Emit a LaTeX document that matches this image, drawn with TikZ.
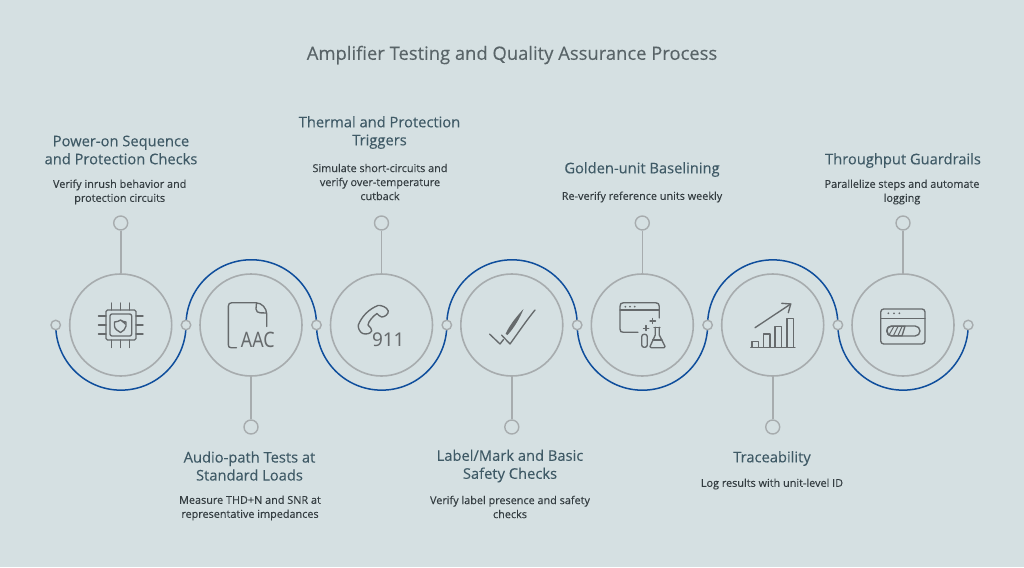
\documentclass[tikz,border=0pt]{standalone}
\usepackage{fontspec}
\setmainfont{Open Sans}[FakeBold=0.22]
\newfontfamily\iconfont{Noto Sans}
\pgfdeclarelayer{bg}
\pgfsetlayers{bg,main}
\definecolor{bgc}{HTML}{D5E0E2}
\definecolor{ringc}{HTML}{A7ACAE}
\definecolor{bluec}{HTML}{0F4E9C}
\definecolor{headc}{HTML}{3F5A66}
\definecolor{descc}{HTML}{343D41}
\definecolor{titlec}{HTML}{596468}
\definecolor{iconc}{HTML}{666A6C}
\tikzset{
  x=1pt,y=1pt,
  ring/.style={circle,draw=ringc,line width=1.6pt,fill=bgc,minimum size=102pt,inner sep=0pt},
  joint/.style={circle,draw=ringc,line width=1.4pt,fill=bgc,minimum size=9.5pt,inner sep=0pt},
  pin/.style={circle,draw=ringc,line width=1.4pt,fill=bgc,minimum size=14pt,inner sep=0pt},
  stem/.style={draw=ringc,line width=1.6pt},
  wave/.style={draw=bluec,line width=1.5pt},
  titletext/.style={font=\fontsize{18.4}{22}\selectfont,text=titlec,inner sep=0pt},
  headtext/.style={font=\fontsize{14.7}{18}\selectfont,text=headc,align=center,inner sep=0pt},
  desctext/.style={font=\fontsize{10.85}{14}\selectfont,text=descc,align=center,inner sep=0pt},
  icon/.style={draw=iconc,line width=1.35pt,line cap=round,line join=round},
  iconfill/.style={fill=iconc,draw=none},
  icontext/.style={text=iconc,inner sep=0pt},
}
\begin{document}
\begin{tikzpicture}
\begin{pgfonlayer}{bg}
\path[fill=bgc] (0,0) rectangle (1024,-567);
\end{pgfonlayer}
\useasboundingbox (0,0) rectangle (1024,-567);

\node[titletext] (title) at (512,-55) {Amplifier Testing and Quality Assurance Process};

% rings
\node[ring] (c1) at (120.7,-325) {};
\node[ring] (c2) at (251,-325) {};
\node[ring] (c3) at (381.5,-325) {};
\node[ring] (c4) at (511.8,-325) {};
\node[ring] (c5) at (642.3,-325) {};
\node[ring] (c6) at (772.7,-325) {};
\node[ring] (c7) at (903,-325) {};
% joints
\node[joint] (j0) at (55.7,-325) {};
\node[joint] (j1) at (186,-325) {};
\node[joint] (j2) at (316.5,-325) {};
\node[joint] (j3) at (446.8,-325) {};
\node[joint] (j4) at (577.2,-325) {};
\node[joint] (j5) at (707.6,-325) {};
\node[joint] (j6) at (837.9,-325) {};
\node[joint] (j7) at (968.2,-325) {};
% pins
\node[pin] (p1) at (120.7,-223) {};
\node[pin] (p2) at (251,-427) {};
\node[pin] (p3) at (381.5,-223) {};
\node[pin] (p4) at (511.8,-427) {};
\node[pin] (p5) at (642.3,-223) {};
\node[pin] (p6) at (772.7,-427) {};
\node[pin] (p7) at (903,-223) {};

\begin{pgfonlayer}{bg}
\draw[stem] (p1) -- (c1);
\draw[stem] (p2) -- (c2);
\draw[stem] (p3) -- (c3);
\draw[stem] (p4) -- (c4);
\draw[stem] (p5) -- (c5);
\draw[stem] (p6) -- (c6);
\draw[stem] (p7) -- (c7);
% blue waves: half circles from joint to joint
\draw[wave] (j0.center) arc[start angle=180,end angle=360,radius=65.15];
\draw[wave] (j1.center) arc[start angle=180,end angle=0,radius=65.25];
\draw[wave] (j2.center) arc[start angle=180,end angle=360,radius=65.15];
\draw[wave] (j3.center) arc[start angle=180,end angle=0,radius=65.2];
\draw[wave] (j4.center) arc[start angle=180,end angle=360,radius=65.2];
\draw[wave] (j5.center) arc[start angle=180,end angle=0,radius=65.15];
\draw[wave] (j6.center) arc[start angle=180,end angle=360,radius=65.15];
\end{pgfonlayer}

% text
\node[headtext] (h1) at (121,-150) {Power-on Sequence\\and Protection Checks};
\node[desctext] (d1) at (119.7,-192) {Verify inrush behavior and\\protection circuits};
\node[headtext] (h2) at (249.5,-466) {Audio-path Tests at\\Standard Loads};
\node[desctext] (d2) at (250,-508) {Measure THD+N and SNR at\\representative impedances};
\node[headtext] (h3) at (379.5,-132.5) {Thermal and Protection\\Triggers};
\node[desctext] (d3) at (380,-182) {Simulate short-circuits and\\verify over-temperature\\cutback};
\node[headtext] (h4) at (510,-466) {Label/Mark and Basic\\Safety Checks};
\node[desctext] (d4) at (510,-507) {Verify label presence and safety\\checks};
\node[headtext] (h5) at (642,-169.5) {Golden-unit Baselining};
\node[desctext] (d5) at (642,-197) {Re-verify reference units weekly};
\node[headtext] (h6) at (772,-458.5) {Traceability};
\node[desctext] (d6) at (772,-484) {Log results with unit-level ID};
\node[headtext] (h7) at (903,-160.5) {Throughput Guardrails};
\node[desctext] (d7) at (902,-192) {Parallelize steps and automate\\logging};

% icon 1: chip with shield
\draw[icon,rounded corners=1.5pt] (106,-310) rectangle (136,-340);
\draw[icon,rounded corners=2pt] (110,-314) rectangle (131.7,-336);
\foreach \k in {111.7,120.7,129.3}{
  \draw[icon] (\k,-303) -- (\k,-310);
  \draw[icon] (\k,-340) -- (\k,-347.5);
}
\foreach \k in {-316,-325,-334}{
  \draw[icon] (98.5,\k) -- (106,\k);
  \draw[icon] (136,\k) -- (143,\k);
}
\draw[icon] (114.5,-322) .. controls (117,-322) and (119,-321) .. (120.5,-320) .. controls (122,-321) and (124,-322) .. (126,-322) -- (126,-326) .. controls (126,-329) and (123,-331) .. (120.5,-332.5) .. controls (118,-331) and (114.5,-329) .. (114.5,-326) -- cycle;
\draw[iconfill] (120.5,-320.5) -- (125.5,-322.5) -- (125.5,-325) -- cycle;

% icon 2: AAC file
\draw[icon] (236.5,-347.7) -- (231,-347.7) .. controls (229,-347.7) and (228.4,-346.5) .. (228.4,-345) -- (228.4,-306) .. controls (228.4,-304) and (229.5,-302.8) .. (231.5,-302.8) -- (256,-302.8) .. controls (262,-303) and (266.5,-308) .. (266.7,-314) -- (266.7,-326.5);
\draw[icon] (256.5,-302.8) -- (256,-309) .. controls (256,-311.5) and (258,-312.8) .. (260,-312.8) -- (266.5,-313);
\node[icontext,font=\iconfont\fontsize{19}{19}\selectfont] (aac) at (257.8,-339.5) {\scalebox{0.94}[1.12]{AAC}};

% icon 3: phone + 911
\draw[icon] (358.3,-325) .. controls (362,-316) and (369,-309) .. (378,-305.5) .. controls (381,-305) and (387,-307) .. (388.3,-311) .. controls (388.5,-314) and (385,-317) .. (381.7,-317) .. controls (380,-316.5) and (378,-315) .. (377,-313.5) .. controls (373,-316) and (368,-322) .. (368,-325) .. controls (370,-327) and (372,-329) .. (371.7,-331) .. controls (370,-334) and (366,-334.5) .. (362.7,-333.5) .. controls (359.5,-332) and (358,-328) .. (358.3,-325) -- cycle;
\node[icontext,font=\iconfont\fontsize{19}{19}\selectfont] (n911) at (388.3,-339.5) {911};

% icon 4: double check
\draw[icon] (489.5,-334) -- (500,-344) -- (503.5,-339.5);
\draw[iconfill] (505.5,-334) .. controls (510,-324) and (518,-315) .. (523.5,-309) .. controls (520,-318) and (514,-328) .. (507.5,-335) -- cycle;
\draw[icon] (501.5,-335) -- (510,-344) .. controls (518,-333) and (526,-321) .. (535,-310);

% icon 5: browser + flask
\draw[icon] (659.3,-318) -- (659.3,-306.5) .. controls (659.3,-304) and (658,-302.7) .. (655.5,-302.7) -- (623.5,-302.7) .. controls (621,-302.7) and (620,-304) .. (620,-306.5) -- (620,-329) .. controls (620,-331.5) and (621,-332.3) .. (623.5,-332.3) -- (638,-332.3);
\draw[icon] (620,-310) -- (659.3,-310);
\foreach \k in {625.3,630,634.7}{\fill[iconc] (\k,-306.7) circle[radius=1pt];}
\draw[icon] (652.7,-318.5) -- (652.7,-323.5) (650,-321) -- (655.5,-321);
\draw[icon] (646,-325.5) -- (646,-330.5) (643.5,-328.3) -- (648.7,-328.3);
\draw[icon,rounded corners=2.4pt] (641.7,-334.3) rectangle (647.3,-347.3);
\draw[icon] (654,-327.3) -- (660,-327.3);
\draw[icon] (655.3,-327.3) -- (655.3,-335) -- (650,-346.5) .. controls (650,-347.5) and (651,-347.7) .. (652,-347.7) -- (664,-347.7) .. controls (665,-347.7) and (665.3,-347) .. (665,-346.5) -- (659.3,-335) -- (659.3,-327.3);
\draw[icon] (652.5,-340) -- (662,-340);

% icon 6: rising chart
\draw[icon] (750.7,-347.3) -- (795,-347.3);
\draw[icon] (752,-347) -- (752,-341.5) -- (758.3,-341.5) -- (758.3,-347);
\draw[icon] (763.5,-347) -- (763.5,-334) -- (770,-334) -- (770,-347);
\draw[icon] (775,-347) -- (775,-326.5) -- (781.5,-326.5) -- (781.5,-347);
\draw[icon] (787,-347) -- (787,-318.5) -- (793.3,-318.5) -- (793.3,-347);
\draw[icon] (755,-327.7) -- (790.7,-304);
\draw[icon] (781.7,-303.3) -- (790.7,-304) -- (788.3,-312.7);

% icon 7: progress window
\draw[icon,rounded corners=3pt] (880.7,-309) rectangle (925,-344);
\draw[icon] (880.7,-318.3) -- (925,-318.3);
\foreach \k in {888.3,894,899.3}{\fill[iconc] (\k,-313.3) circle[radius=1pt];}
\draw[icon,rounded corners=5pt] (886.7,-326) rectangle (920,-336);
\draw[icon] (887,-331) .. controls (887,-327) and (889,-326.5) .. (891,-326.2) -- (905,-326.2) -- (902,-335.8) -- (891,-335.8) .. controls (888.5,-335.5) and (887,-334) .. (887,-331);
\draw[icon,line width=1pt] (889,-335) -- (893.5,-327) (893.5,-335.5) -- (898,-326.5) (898,-335.5) -- (902,-326.5);
\end{tikzpicture}
\end{document}
